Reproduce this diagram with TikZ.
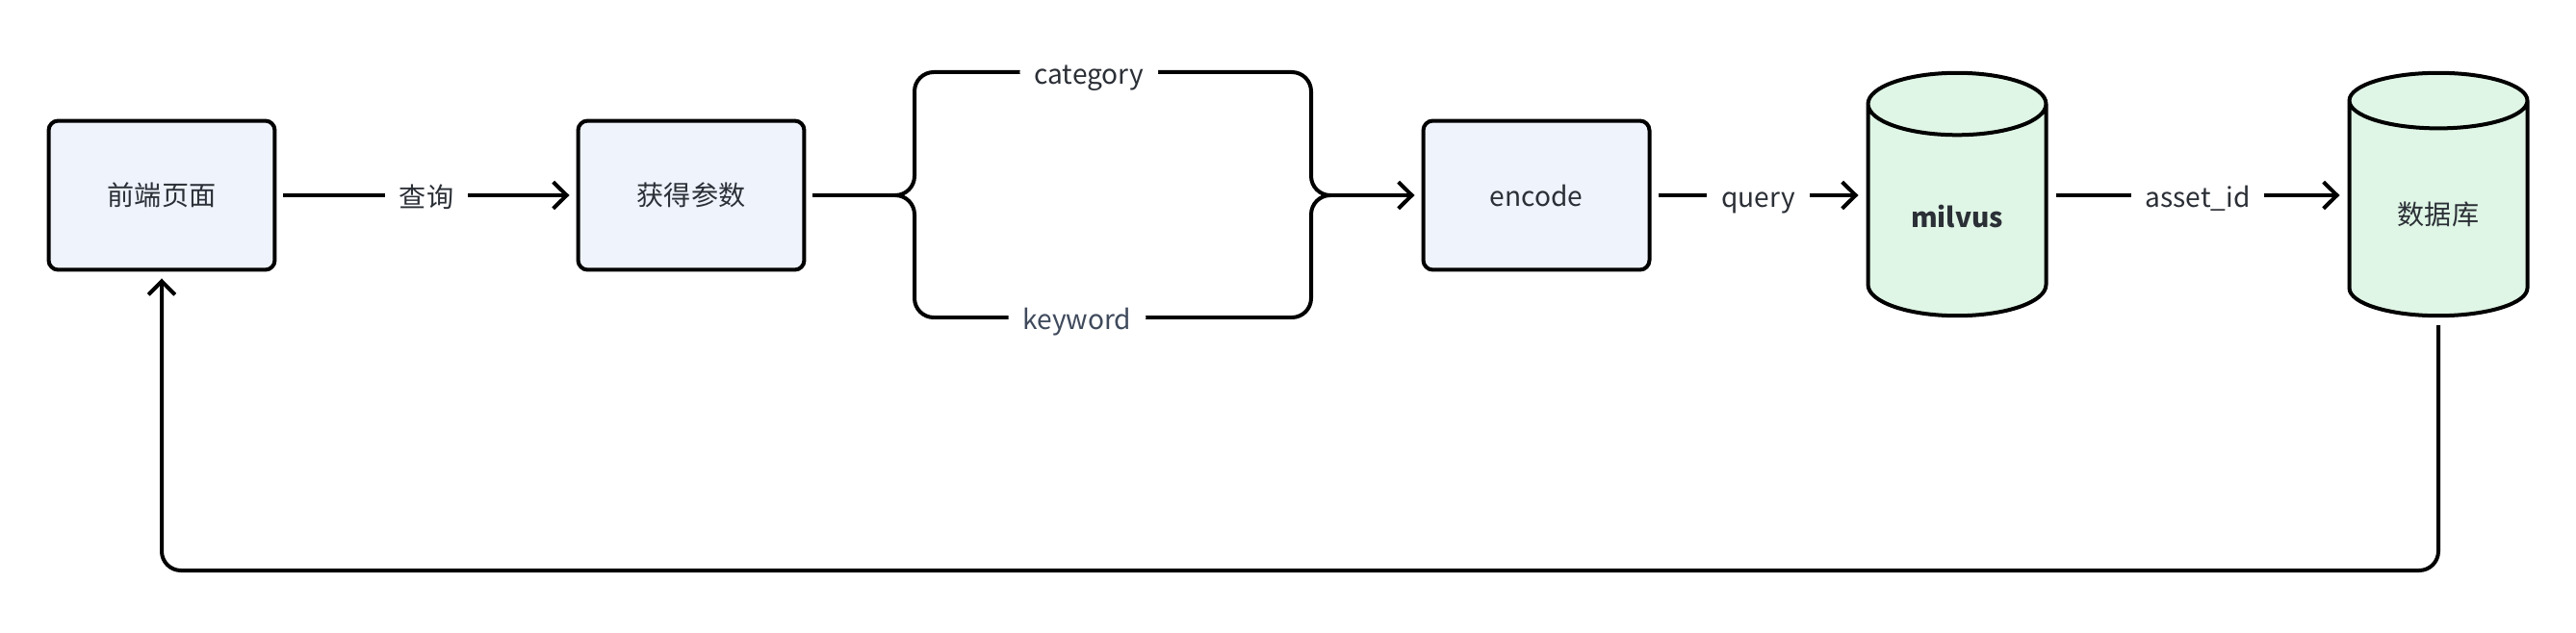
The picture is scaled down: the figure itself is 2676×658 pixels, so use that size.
\documentclass[tikz,border=0pt]{standalone}
\usepackage{fontspec}
\setmainfont{Noto Sans CJK SC}
\usepackage{tikz}
\usetikzlibrary{shapes.geometric,arrows.meta}
\definecolor{boxblue}{HTML}{EEF3FC}
\definecolor{dbgreen}{HTML}{DFF5E5}
\definecolor{txt}{HTML}{2B2F36}
\definecolor{txtb}{HTML}{3F4A5C}
\tikzset{
  box/.style={draw, line width=0.08cm, rounded corners=0.2cm, fill=boxblue,
    minimum width=4.7cm, minimum height=3.1cm, text=txt, outer sep=0.18cm},
  db/.style={cylinder, shape border rotate=90, aspect=0.6, draw, line width=0.08cm,
    fill=dbgreen, minimum width=3.7cm, minimum height=5.05cm, text=txt, outer sep=0.2cm},
  line/.style={line width=0.08cm, -{Straight Barb[length=0.28cm,width=0.55cm,line width=0.08cm]}},
  lab/.style={fill=white, text=txt, inner xsep=0.3cm, inner ysep=0.05cm, text height=0.6cm, text depth=0.1cm},
}
\begin{document}
\begin{tikzpicture}[x=0.02cm,y=-0.02cm,font=\fontsize{16}{19}\selectfont]
\useasboundingbox (0,0) rectangle (2676,658);
\node[box](front) at (168,203){前端页面};
\node[box](param) at (718,203){获得参数};
\node[box](enc) at (1596,203){encode};
\node[db, anchor=shape center](milvus) at (2033,202){\textbf{milvus}};
\node[db, anchor=shape center](sql) at (2533,202){数据库};
\coordinate (split) at (930,203);
\coordinate (merge) at (1382,203);
\draw[line] (front) -- node[lab]{查询} (param);
\draw[line width=0.08cm] (param) -- (split);
\draw[line width=0.08cm, rounded corners=0.4cm] (split) -- (950,203) -- (950,75)
  -- node[lab, pos=0.44]{category} (1362,75) -- (1362,203) -- (merge);
\draw[line width=0.08cm, rounded corners=0.4cm] (split) -- (950,203) -- (950,330)
  -- node[lab, pos=0.41, text=txtb]{keyword} (1362,330) -- (1362,203) -- (merge);
\draw[line] (merge) -- (enc);
\draw[line] (enc) -- node[lab]{query} (enc -| milvus.west);
\draw[line] (milvus.east |- enc) -- node[lab]{asset\_id} (enc -| sql.west);
\draw[line, rounded corners=0.4cm] (sql.south) -- (2533,593) -- (168,593) -- (front);
\end{tikzpicture}
\end{document}
